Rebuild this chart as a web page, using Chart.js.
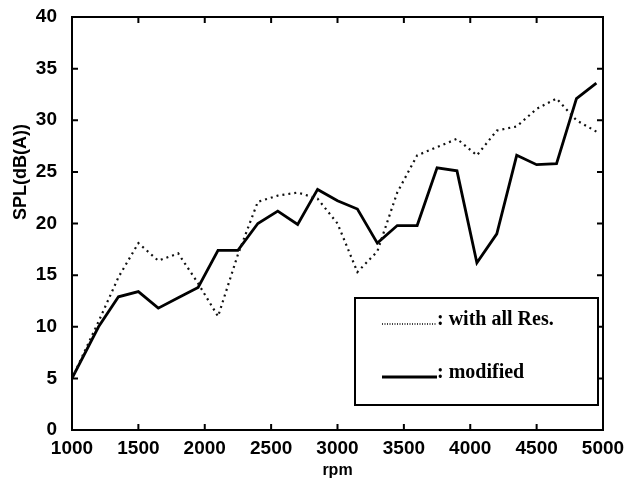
<!DOCTYPE html>
<html>
<head>
<meta charset="utf-8">
<script src="https://cdn.jsdelivr.net/npm/chart.js@4/dist/chart.umd.min.js"></script>
<style>
  html, body { margin: 0; padding: 0; background: #fff; }
  #wrap { width: 627px; height: 481px; }
</style>
</head>
<body>
<div id="wrap"><canvas id="myChart" width="627" height="481"></canvas></div>
<script>
// engine speed (rpm) and sound pressure level
var rpm = [1000, 1200, 1350, 1500, 1650, 1800, 1950, 2100, 2250, 2400, 2550, 2700, 2850, 3000,
           3150, 3300, 3450, 3600, 3750, 3900, 4050, 4200, 4350, 4500, 4650, 4800, 4950];
var withAllRes = [5, 10.5, 14.8, 18.1, 16.4, 17.1, 14.2, 11, 17, 22.1, 22.7, 23, 22.4, 20,
                  15.3, 17.3, 23, 26.6, 27.4, 28.2, 26.6, 29, 29.4, 31.1, 32.1, 30, 28.9];
var modified = [5, 10, 12.9, 13.4, 11.8, 12.8, 13.8, 17.4, 17.4, 20, 21.2, 19.9, 23.3, 22.2,
                21.4, 18.1, 19.8, 19.8, 25.4, 25.1, 16.2, 19, 26.6, 25.7, 25.8, 32.1, 33.6];
var xTicks = [1000, 1500, 2000, 2500, 3000, 3500, 4000, 4500, 5000];
var yTicks = [0, 5, 10, 15, 20, 25, 30, 35, 40];
var legendLabels = [": with all Res.", ": modified"];
var yTitle = "SPL(dB(A))";

function pairs(ys) {
  return rpm.map(function (r, i) { return { x: r, y: ys[i] }; });
}

// box around the plot with inward ticks on all four sides
var framePlugin = {
  id: "frame",
  afterDatasetsDraw: function (chart) {
    var ctx = chart.ctx;
    var a = chart.chartArea;
    var xs = chart.scales.x, ys = chart.scales.y;
    ctx.save();
    ctx.strokeStyle = "#000";
    ctx.lineWidth = 2;
    ctx.strokeRect(a.left, a.top, a.right - a.left, a.bottom - a.top);
    ctx.beginPath();
    xTicks.forEach(function (t) {
      var px = xs.getPixelForValue(t);
      ctx.moveTo(px, a.bottom); ctx.lineTo(px, a.bottom - 6);
      ctx.moveTo(px, a.top); ctx.lineTo(px, a.top + 6);
    });
    yTicks.forEach(function (t) {
      var py = ys.getPixelForValue(t);
      ctx.moveTo(a.left, py); ctx.lineTo(a.left + 6, py);
      ctx.moveTo(a.right, py); ctx.lineTo(a.right - 6, py);
    });
    ctx.stroke();

    // vertical axis title, sits a bit above the middle
    ctx.translate(21, 172);
    ctx.rotate(-Math.PI / 2);
    ctx.font = "bold 18px 'Liberation Sans'";
    ctx.fillStyle = "#000";
    ctx.textAlign = "center";
    ctx.textBaseline = "middle";
    ctx.fillText(yTitle, 0, 0);
    ctx.restore();
  }
};

// boxed legend in the lower right corner
var legendPlugin = {
  id: "boxLegend",
  afterDraw: function (chart) {
    var ctx = chart.ctx;
    var a = chart.chartArea;
    var bx = a.right - 248, by = a.bottom - 132, bw = 243, bh = 107;
    ctx.save();
    ctx.fillStyle = "#fff";
    ctx.fillRect(bx, by, bw, bh);
    ctx.strokeStyle = "#000";
    ctx.lineWidth = 2;
    ctx.strokeRect(bx, by, bw, bh);
    chart.data.datasets.forEach(function (ds, i) {
      var ly = by + 26 + i * 53;
      ctx.beginPath();
      ctx.lineWidth = i === 0 ? 1.5 : 3;
      ctx.setLineDash(i === 0 ? [1, 1.5] : []);
      ctx.moveTo(bx + 27, ly);
      ctx.lineTo(bx + 82, ly);
      ctx.stroke();
      ctx.setLineDash([]);
      ctx.fillStyle = "#000";
      ctx.font = "bold 20px 'Liberation Serif'";
      ctx.textBaseline = "alphabetic";
      ctx.fillText(legendLabels[i], bx + 82, ly + 1);
    });
    ctx.restore();
  }
};

var ctx = document.getElementById("myChart").getContext("2d");
var chart = new Chart(ctx, {
  type: "line",
  data: {
    datasets: [
      {
        label: "with all Res.",
        data: pairs(withAllRes),
        borderColor: "#111",
        borderWidth: 2.2,
        borderDash: [2, 4],
        pointRadius: 0,
        tension: 0,
        fill: false
      },
      {
        label: "modified",
        data: pairs(modified),
        borderColor: "#000",
        borderWidth: 2.8,
        pointRadius: 0,
        tension: 0,
        fill: false
      }
    ]
  },
  options: {
    responsive: false,
    animation: false,
    layout: { padding: { top: 17, right: 24, left: 0, bottom: 0 } },
    plugins: { legend: { display: false }, tooltip: { enabled: false } },
    scales: {
      x: {
        type: "linear",
        min: 1000,
        max: 5000,
        afterBuildTicks: function (scale) {
          scale.ticks = xTicks.map(function (v) { return { value: v }; });
        },
        afterFit: function (scale) {
          scale.height = 51;
          scale.paddingRight = 0;
          scale.paddingLeft = 0;
        },
        grid: { display: false, drawTicks: false },
        border: { display: false },
        ticks: {
          color: "#000",
          padding: 7,
          maxRotation: 0,
          callback: function (v) { return String(v); },
          font: { family: "'Liberation Sans'", size: 19, weight: "bold" }
        },
        title: {
          display: true,
          text: "rpm",
          color: "#000",
          padding: { top: 0, bottom: 1 },
          font: { family: "'Liberation Sans'", size: 16, weight: "bold" }
        }
      },
      y: {
        min: 0,
        max: 40,
        afterBuildTicks: function (scale) {
          scale.ticks = yTicks.map(function (v) { return { value: v }; });
        },
        afterFit: function (scale) {
          scale.width = 72;
          scale.paddingTop = 0;
          scale.paddingBottom = 0;
        },
        grid: { display: false, drawTicks: false },
        border: { display: false },
        ticks: {
          color: "#000",
          padding: 15,
          callback: function (v) { return String(v); },
          font: { family: "'Liberation Sans'", size: 19, weight: "bold" }
        }
      }
    }
  },
  plugins: [framePlugin, legendPlugin]
});
</script>
</body>
</html>
